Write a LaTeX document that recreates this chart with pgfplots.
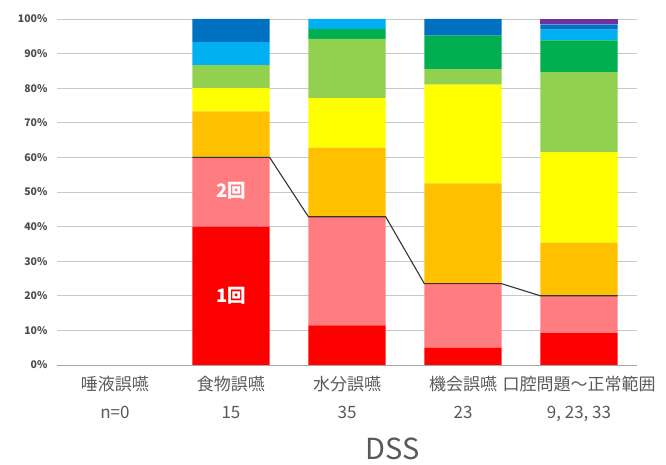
\documentclass[border=0pt]{standalone}
\usepackage{pgfplots}
\pgfplotsset{compat=1.18}
\usepackage{fontspec}
\setmainfont{Noto Sans CJK JP}

\definecolor{c1}{HTML}{FF0000}
\definecolor{c2}{HTML}{FF7C80}
\definecolor{c3}{HTML}{FFC000}
\definecolor{c4}{HTML}{FFFF00}
\definecolor{c5}{HTML}{92D050}
\definecolor{c6}{HTML}{00B050}
\definecolor{c7}{HTML}{00B0F0}
\definecolor{c8}{HTML}{0070C0}
\definecolor{c9}{HTML}{7030A0}
\definecolor{txt}{HTML}{595959}
\definecolor{gridc}{HTML}{C8C8C8}

\pgfplotsset{
  base/.style={
    scale only axis, width=580pt, height=346pt,
    xmin=-0.5, xmax=4.5, ymin=0, ymax=100,
    enlarge x limits=false, enlarge y limits=false,
  },
}

\begin{document}
\begin{tikzpicture}
\useasboundingbox (-57pt,-100pt) rectangle (609pt,365pt);
\begin{axis}[base,
  ybar stacked, bar width=0.667,
  axis x line*=bottom, axis y line*=left,
  x axis line style={draw=black!35, line width=0.9pt},
  y axis line style={draw=none},
  major tick length=0pt,
  ymajorgrids, grid style={gridc, line width=0.8pt},
  ytick={0,10,...,100},
  yticklabel={\pgfmathprintnumber{\tick}\%},
  /pgf/number format/assume math mode=true,
  yticklabel style={font=\fontsize{10.5}{12}\selectfont\bfseries, text=black!70, xshift=-6pt},
  xtick={0,1,2,3,4},
  xticklabels={{唾液誤嚥\\n=0},{食物誤嚥\\15},{水分誤嚥\\35},{機会誤嚥\\23},{口腔問題～正常範囲\\9, 23, 33}},
  xticklabel style={align=center, font=\fontsize{17}{27.5}\selectfont, text=txt, yshift=-8pt},
  every axis plot/.append style={draw=none},
]
% 1回
\addplot[fill=c1] coordinates {(1,40) (2,11.43) (3,5.0) (4,9.23)};
% 2回
\addplot[fill=c2] coordinates {(1,20) (2,31.43) (3,18.5) (4,10.77)};
\addplot[fill=c3] coordinates {(1,13.33) (2,20) (3,29.0) (4,15.38)};
\addplot[fill=c4] coordinates {(1,6.67) (2,14.29) (3,28.5) (4,26.15)};
\addplot[fill=c5] coordinates {(1,6.67) (2,17.14) (3,4.5) (4,23.08)};
\addplot[fill=c6] coordinates {(1,0) (2,2.86) (3,9.7) (4,9.23)};
\addplot[fill=c7] coordinates {(1,6.67) (2,2.86) (3,0) (4,3.08)};
\addplot[fill=c8] coordinates {(1,6.67) (2,0) (3,4.8) (4,1.54)};
\addplot[fill=c9] coordinates {(1,0) (2,0) (3,0) (4,1.54)};
\end{axis}
% series line joining the 2回 tops, and the in-bar labels
\begin{axis}[base, hide axis, clip=false]
\addplot[draw=black!80, line width=1.1pt, mark=none] coordinates {
  (0.667,60) (1.333,60)
  (1.667,42.86) (2.333,42.86)
  (2.667,23.5) (3.333,23.5)
  (3.667,20) (4.333,20)};
\node[text=white, font=\fontsize{18.5}{20}\selectfont\bfseries] at (axis cs:1,50.5) {2回};
\node[text=white, font=\fontsize{18.5}{20}\selectfont\bfseries] at (axis cs:1,20) {1回};
\end{axis}
\node[text=txt, font=\fontsize{29}{32}\selectfont] at (336pt,-84pt) {DSS};
\end{tikzpicture}
\end{document}
